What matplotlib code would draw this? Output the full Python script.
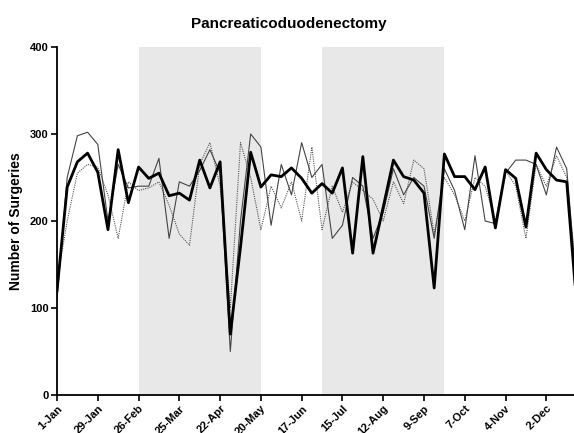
import datetime as dt
import matplotlib
matplotlib.use("Agg")
import matplotlib.pyplot as plt
import matplotlib.dates as mdates

plt.rcParams["font.family"] = ["Liberation Sans", "DejaVu Sans"]
plt.rcParams["font.weight"] = "bold"

# weekly counts, starting 1-Jan (leap year)
start = dt.date(2016, 1, 1)
weeks = [start + dt.timedelta(weeks=i) for i in range(52)]

current = [120, 239, 268, 278, 256, 190, 282, 221, 262, 249, 255, 229, 232,
           224, 270, 238, 268, 70, 170, 279, 239, 253, 251, 261, 249, 232,
           243, 232, 261, 163, 274, 163, 216, 270, 251, 247, 232, 123, 277,
           251, 251, 236, 262, 192, 259, 249, 193, 278, 259, 247, 245, 100]

prior_a = [110, 250, 298, 302, 288, 200, 265, 238, 240, 240, 272, 180, 245,
           240, 258, 282, 255, 50, 200, 300, 285, 195, 265, 230, 290, 250,
           265, 180, 195, 250, 240, 180, 210, 260, 230, 250, 240, 180, 260,
           235, 190, 275, 200, 197, 255, 270, 270, 265, 230, 285, 260, 120]

prior_b = [130, 200, 255, 265, 262, 230, 180, 245, 235, 238, 245, 218, 185,
           172, 265, 290, 240, 100, 290, 250, 190, 240, 215, 245, 200, 285,
           190, 240, 210, 245, 235, 225, 200, 245, 220, 270, 260, 185, 250,
           230, 200, 250, 240, 200, 258, 240, 180, 265, 240, 275, 250, 130]

shaded = [(8, 20), (26, 38)]  # week index ranges
tick_weeks = list(range(0, 52, 4))

fig = plt.figure(figsize=(5.74, 4.33), dpi=100)
ax = fig.add_axes([0.0993, 0.0878, 0.9007, 0.8037])

for a, b in shaded:
    ax.axvspan(weeks[a], weeks[b], color="#e8e8e8", lw=0, zorder=0)

ax.plot(weeks, prior_b, color="#555555", lw=0.8, ls=(0, (1, 1)), zorder=2)
ax.plot(weeks, prior_a, color="#444444", lw=0.8, zorder=2)
ax.plot(weeks, current, color="black", lw=2.0, zorder=3)

ax.set_ylim(0, 400)
ax.set_yticks([0, 100, 200, 300, 400])
ax.set_xlim(weeks[0], weeks[0] + dt.timedelta(weeks=50.85))
ax.set_xticks([weeks[i] for i in tick_weeks])
ax.xaxis.set_major_formatter(mdates.DateFormatter("%-d-%b"))
plt.setp(ax.get_xticklabels(), rotation=45, ha="right", rotation_mode="anchor")

for s in ["top", "right"]:
    ax.spines[s].set_visible(False)
for s in ["left", "bottom"]:
    ax.spines[s].set_linewidth(1.3)
ax.tick_params(direction="out", length=4, width=1.2, labelsize=8, pad=2)

ax.set_ylabel("Number of Surgeries", fontsize=10, fontweight="bold", labelpad=5)
ax.set_title("Pancreaticoduodenectomy", fontsize=11, fontweight="bold",
             x=0.449, pad=14)

fig.savefig("out.png", dpi=100)
